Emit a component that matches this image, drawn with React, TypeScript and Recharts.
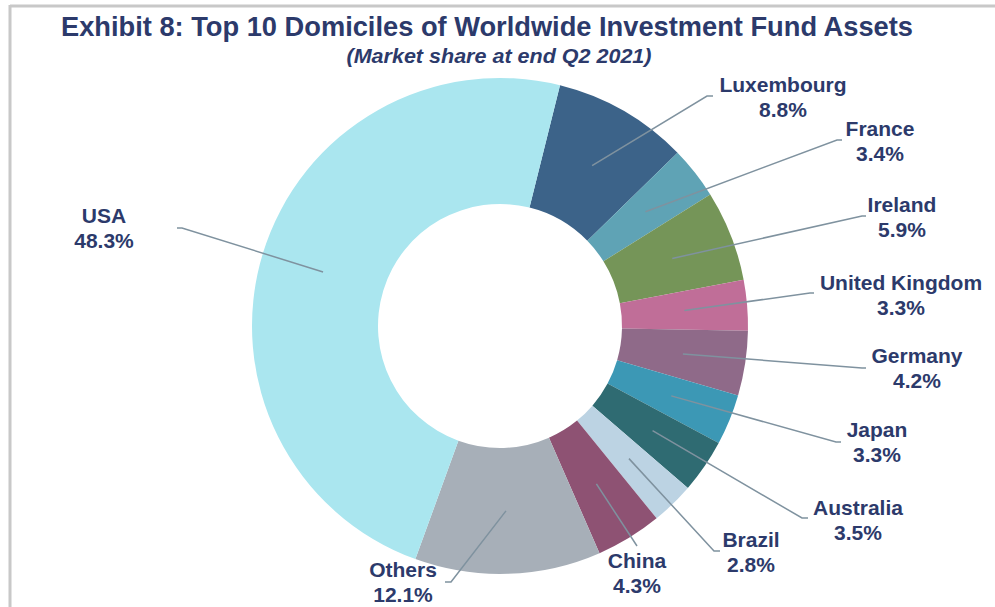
import { Pie, PieChart, Cell } from 'recharts';

const COUNTRIES = [
  'Luxembourg',
  'France',
  'Ireland',
  'United Kingdom',
  'Germany',
  'Japan',
  'Australia',
  'Brazil',
  'China',
  'Others',
  'USA',
];
const SHARES = [8.8, 3.4, 5.9, 3.3, 4.2, 3.3, 3.5, 2.8, 4.3, 12.1, 48.3];
const COLORS = [
  '#3c6389',
  '#5fa3b5',
  '#759558',
  '#c06e98',
  '#8f6a89',
  '#3c98b5',
  '#2f6b72',
  '#bcd3e3',
  '#8e5273',
  '#a7afb8',
  '#aae6ef',
];

const data = COUNTRIES.map((name, i) => ({ name, value: SHARES[i] }));

// label placement, offsets from the pie centre: elbow (ex, ey), tail end hx, text centre / baseline (tx, ty)
const LABEL_LAYOUT = [
  { ex: 207, ey: -230, hx: 213, tx: 283, ty: -234 },
  { ex: 337, ey: -186, hx: 342, tx: 380, ty: -190 },
  { ex: 362, ey: -110, hx: 366, tx: 402, ty: -114 },
  { ex: 310, ey: -33, hx: 314, tx: 401, ty: -36 },
  { ex: 362, ey: 42, hx: 366, tx: 417, ty: 37 },
  { ex: 336, ey: 116, hx: 341, tx: 377, ty: 111 },
  { ex: 302, ey: 192, hx: 308, tx: 358, ty: 189 },
  { ex: 214, ey: 225, hx: 220, tx: 251, ty: 221 },
  { ex: 137, ey: 220, hx: 137, tx: 137, ty: 242 },
  { ex: -49, ey: 256, hx: -55, tx: -97, ty: 251 },
  { ex: -318, ey: -98, hx: -323, tx: -396, ty: -103 },
];

const TEXT = '#2c3a6b';
const LINE = '#7f929f';
const RAD = Math.PI / 180;

const renderLabel = (props: any) => {
  const { cx, cy, midAngle, innerRadius, outerRadius, index, name, value } = props;
  const r = (innerRadius + outerRadius) / 2;
  const sx = cx + r * Math.cos(-midAngle * RAD);
  const sy = cy + r * Math.sin(-midAngle * RAD);
  const l = LABEL_LAYOUT[index];
  return (
    <g key={`lbl-${index}`}>
      <polyline
        points={`${sx},${sy} ${cx + l.ex},${cy + l.ey} ${cx + l.hx},${cy + l.ey}`}
        fill="none"
        stroke={LINE}
        strokeWidth={1.5}
      />
      <text
        x={cx + l.tx}
        y={cy + l.ty}
        textAnchor="middle"
        fill={TEXT}
        fontFamily="'Liberation Sans', Arial, sans-serif"
        fontWeight="bold"
        fontSize={21}
      >
        <tspan x={cx + l.tx}>{name}</tspan>
        <tspan x={cx + l.tx} dy={25}>{`${value.toFixed(1)}%`}</tspan>
      </text>
    </g>
  );
};

export default function App() {
  return (
    <div style={{ position: 'absolute', left: 0, top: 0, width: 995, height: 607, background: '#fff' }}>
      <PieChart width={995} height={607} margin={{ top: 0, right: 0, bottom: 0, left: 0 }}>
        <Pie
          data={data}
          dataKey="value"
          nameKey="name"
          cx={500}
          cy={326}
          innerRadius={122}
          outerRadius={248}
          startAngle={76}
          endAngle={-284}
          stroke="none"
          label={renderLabel}
          labelLine={false}
          isAnimationActive={false}
        >
          {data.map((_, i) => (
            <Cell key={`cell-${i}`} fill={COLORS[i]} />
          ))}
        </Pie>
      </PieChart>
      <svg
        width={995}
        height={607}
        style={{ position: 'absolute', left: 0, top: 0, pointerEvents: 'none' }}
      >
        <line x1={10} y1={6} x2={995} y2={6} stroke="#c8c8c8" strokeWidth={3} />
        <line x1={10} y1={5} x2={10} y2={607} stroke="#c8c8c8" strokeWidth={3} />
        <text
          x={487}
          y={36}
          textAnchor="middle"
          fill={TEXT}
          fontFamily="'Liberation Sans Narrow', 'Liberation Sans', Arial, sans-serif"
          fontWeight="bold"
          fontSize={28}
          textLength={852}
          lengthAdjust="spacingAndGlyphs"
        >
          Exhibit 8: Top 10 Domiciles of Worldwide Investment Fund Assets
        </text>
        <text
          x={499}
          y={63}
          textAnchor="middle"
          fill={TEXT}
          fontFamily="'Liberation Sans Narrow', 'Liberation Sans', Arial, sans-serif"
          fontWeight="bold"
          fontStyle="italic"
          fontSize={20}
          textLength={305}
          lengthAdjust="spacingAndGlyphs"
        >
          (Market share at end Q2 2021)
        </text>
      </svg>
    </div>
  );
}
